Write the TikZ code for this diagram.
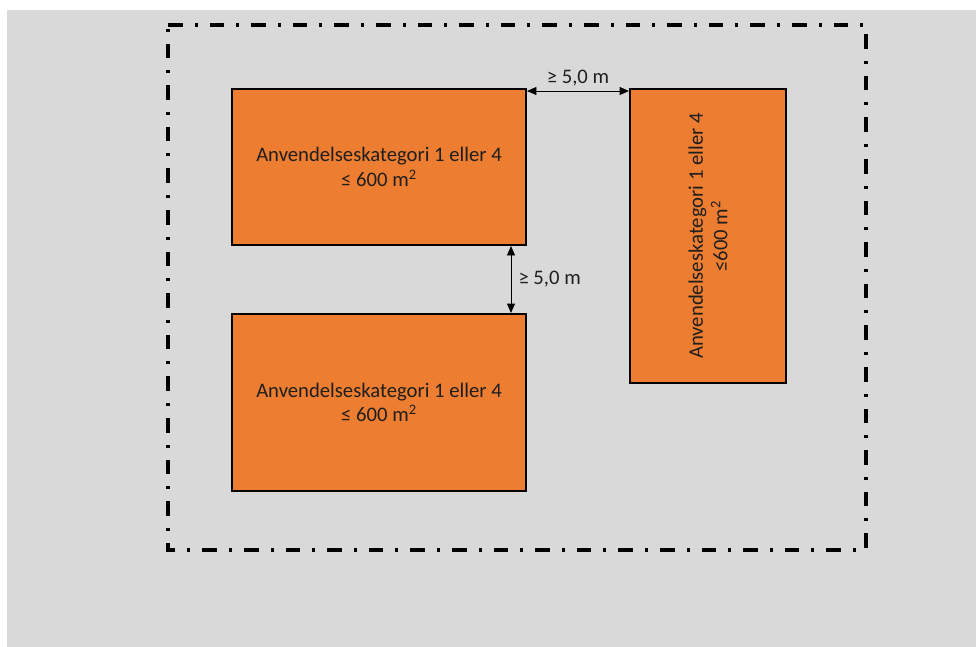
\documentclass[tikz,border=0pt]{standalone}
\usepackage{fontspec}
\setmainfont{Carlito}
\usetikzlibrary{arrows.meta}
\definecolor{bg}{HTML}{D9D9D9}
\definecolor{boxor}{HTML}{ED7D31}
\tikzset{
  px/.style={x=0.75pt,y=-0.75pt},
  zone/.style={draw=black,fill=boxor,line width=1.6pt,inner sep=0pt},
  lbl/.style={font=\fontsize{15.5}{18.5}\selectfont,align=center,text=black!88},
  dim/.style={{Triangle[length=7pt,width=6pt]}-{Triangle[length=7pt,width=6pt]},line width=0.6pt},
  site/.style={line width=2.4pt,dash pattern=on 11pt off 9pt on 2.2pt off 9pt}
}
\begin{document}
\begin{tikzpicture}[px]
\useasboundingbox (0,0) rectangle (976,647);
\fill[white] (0,0) rectangle (976,647);
\fill[bg] (7,10) rectangle (976,647);
\draw[site] (168,25) -- (866,25) -- (866,550) -- (168,550) -- cycle;
\node[zone,minimum width=294*0.75pt,minimum height=156*0.75pt] (a) at (379,167) {};
\node[zone,minimum width=294*0.75pt,minimum height=177*0.75pt] (b) at (379,402.5) {};
\node[zone,minimum width=156*0.75pt,minimum height=294*0.75pt] (c) at (708,236) {};
\node[lbl] (ta) at (a.center) {Anvendelseskategori 1 eller 4\\≤ 600 m\textsuperscript{2}};
\node[lbl] (tb) at (b.center) {Anvendelseskategori 1 eller 4\\≤ 600 m\textsuperscript{2}};
\node[lbl,rotate=90] (tc) at (c.center) {Anvendelseskategori 1 eller 4\\≤600 m\textsuperscript{2}};
\coordinate (h1) at (a.east |- 0,91);
\coordinate (h2) at (c.west |- 0,91);
\draw[dim] (h1) -- (h2) node[midway,above=0pt,lbl] (dh) {≥ 5,0 m};
\coordinate (v1) at (511,0 |- a.south);
\coordinate (v2) at (511,0 |- b.north);
\draw[dim] (v1) -- (v2) node[midway,right=2pt,lbl] (dv) {≥ 5,0 m};
\end{tikzpicture}
\end{document}
